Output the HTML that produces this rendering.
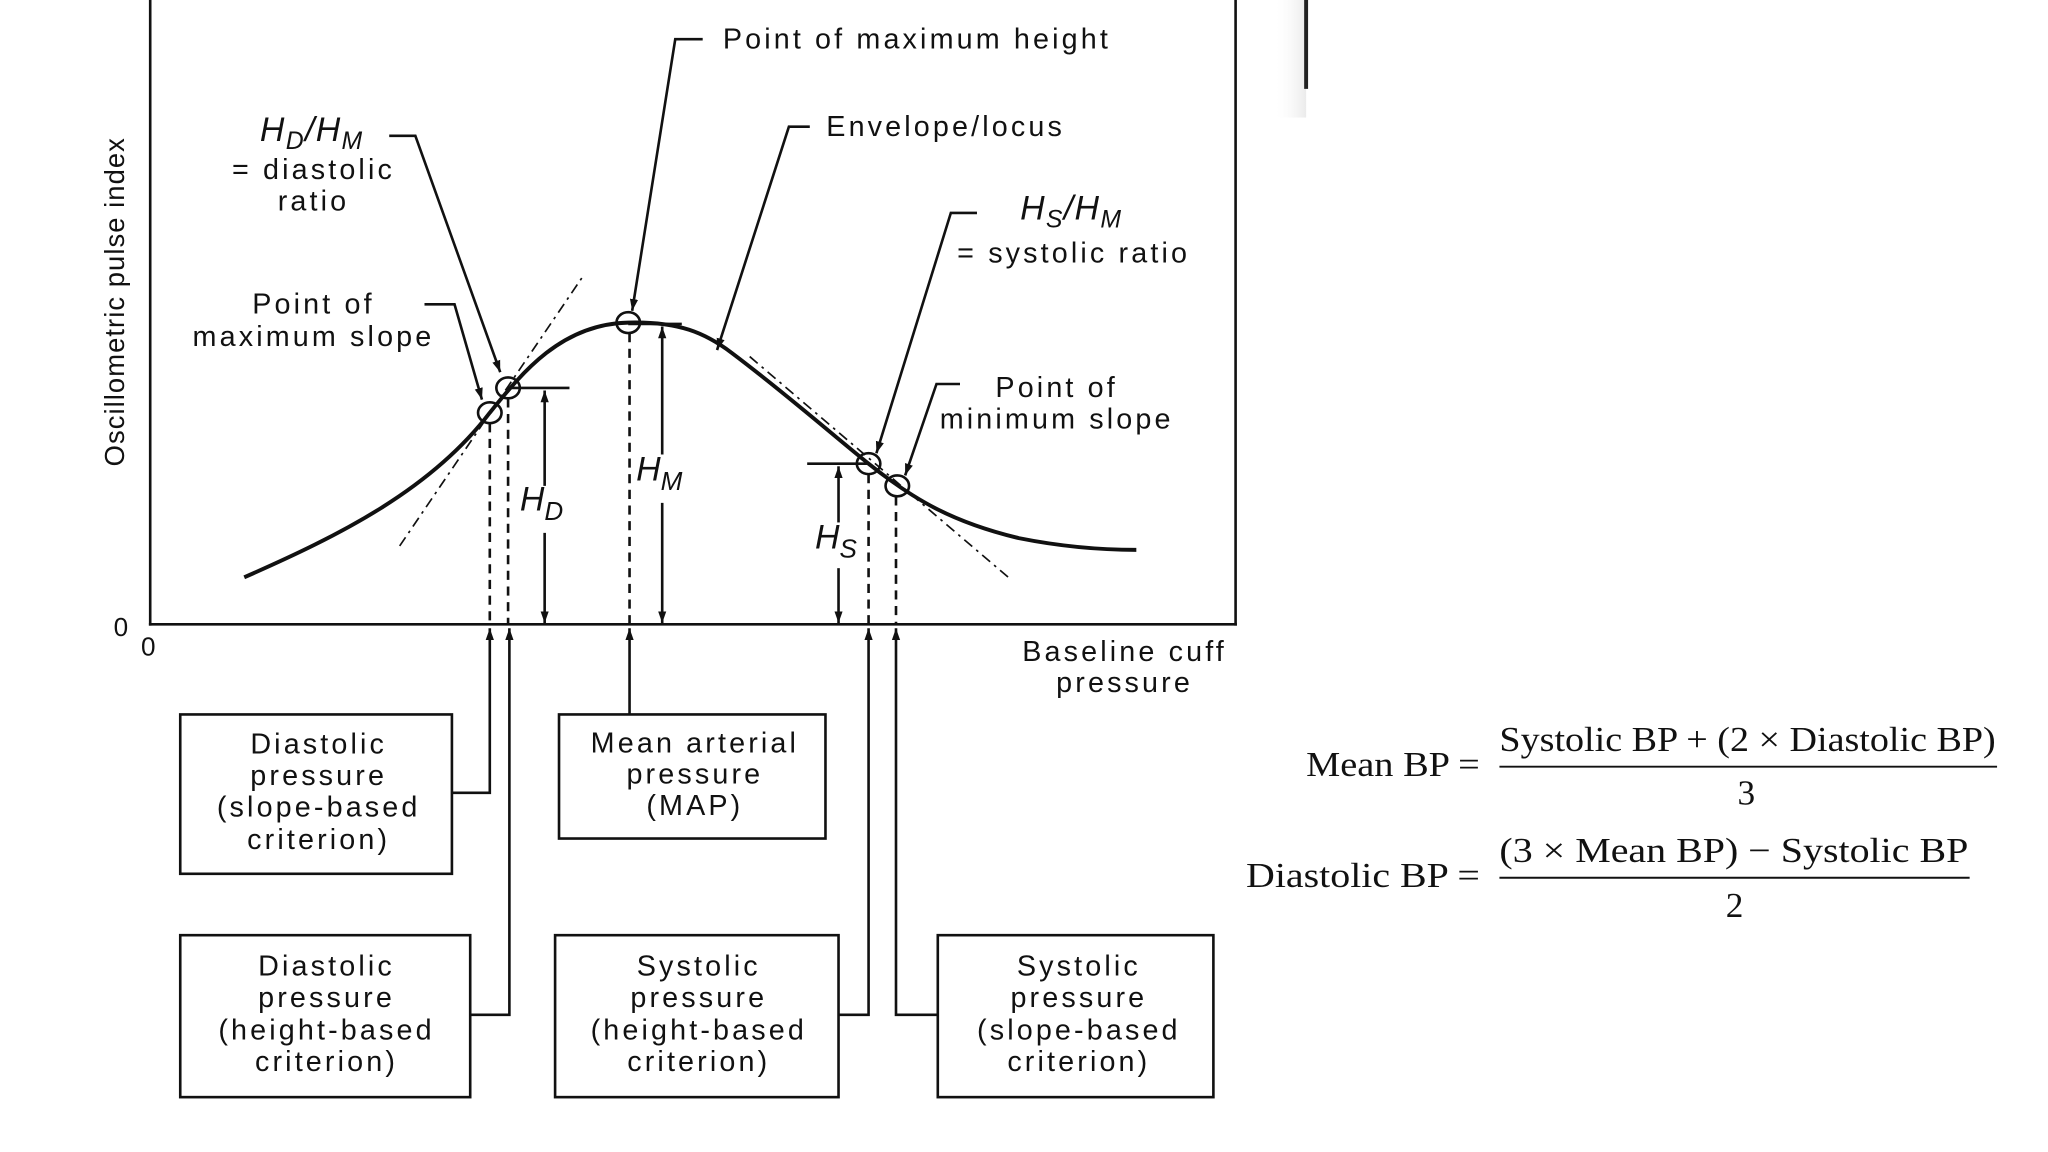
<!DOCTYPE html>
<html><head><meta charset="utf-8"><style>
html,body{margin:0;padding:0;background:#fff;}
svg{display:block;}
text{font-family:"Liberation Sans",sans-serif;fill:#111;}
.l{letter-spacing:2.4px;}
.s{font-family:"Liberation Serif",serif;}
</style></head><body>
<svg width="2048" height="1152" viewBox="0 0 1568 882" xmlns="http://www.w3.org/2000/svg">
<defs>
<marker id="a" viewBox="0 0 10 10" refX="10" refY="5" markerWidth="9" markerHeight="9" markerUnits="userSpaceOnUse" orient="auto"><path d="M0,1.5 L10,5 L0,8.5 z" fill="#111"/></marker>
<linearGradient id="sh" x1="0" x2="1"><stop offset="0" stop-color="#fff" stop-opacity="0"/><stop offset="1" stop-color="#ddd"/></linearGradient>
</defs>
<rect width="1568" height="882" fill="#fff"/>
<rect x="975" y="0" width="25" height="90" fill="url(#sh)" opacity="0.6"/>
<line x1="1000" y1="0" x2="1000" y2="68" stroke="#222" stroke-width="3"/>
<g stroke="#111" fill="none" stroke-width="2">
<line x1="115" y1="0" x2="115" y2="479"/>
<line x1="946" y1="0" x2="946" y2="479"/>
<line x1="114" y1="478" x2="947" y2="478"/>
<path stroke-width="3" d="M187,442 C260,410 330,375 375,316 C400,285 430,248 481,247 C520,246 540,255 560,270 C600,300 640,335 665,355 C700,383 730,400 780,412 C820,420 850,421 870,421"/>
<line x1="306" y1="418" x2="446" y2="212" stroke-width="1.3" stroke-dasharray="8,4,2,4"/>
<line x1="574" y1="273" x2="772" y2="442" stroke-width="1.3" stroke-dasharray="8,4,2,4"/>
<ellipse cx="375" cy="316" rx="9" ry="8"/>
<ellipse cx="389" cy="297" rx="9" ry="8"/>
<ellipse cx="481" cy="247" rx="9" ry="8"/>
<ellipse cx="665" cy="355" rx="9" ry="8"/>
<ellipse cx="687" cy="372" rx="9" ry="8"/>
<line x1="389" y1="297" x2="436" y2="297"/>
<line x1="481" y1="248" x2="522" y2="248"/>
<line x1="618" y1="355" x2="665" y2="355"/>
<g stroke-dasharray="7,5" stroke-width="2">
<line x1="375" y1="324" x2="375" y2="478"/>
<line x1="389" y1="305" x2="389" y2="478"/>
<line x1="482" y1="255" x2="482" y2="478"/>
<line x1="665" y1="363" x2="665" y2="478"/>
<line x1="686" y1="380" x2="686" y2="478"/>
</g>
<line x1="417" y1="372" x2="417" y2="299" marker-end="url(#a)"/>
<line x1="417" y1="408" x2="417" y2="477" marker-end="url(#a)"/>
<line x1="507" y1="348" x2="507" y2="250" marker-end="url(#a)"/>
<line x1="507" y1="385" x2="507" y2="477" marker-end="url(#a)"/>
<line x1="642" y1="400" x2="642" y2="357" marker-end="url(#a)"/>
<line x1="642" y1="435" x2="642" y2="477" marker-end="url(#a)"/>
<polyline points="298,104 318,104 383,285" marker-end="url(#a)"/>
<polyline points="325,233 348,233 369,306" marker-end="url(#a)"/>
<polyline points="538,30 517,30 484,238" marker-end="url(#a)"/>
<polyline points="620,97 604,97 549,268" marker-end="url(#a)"/>
<polyline points="748,163 728,163 671,347" marker-end="url(#a)"/>
<polyline points="735,294 717,294 693,364" marker-end="url(#a)"/>
<rect x="138" y="547" width="208" height="122"/>
<rect x="428" y="547" width="204" height="95"/>
<rect x="138" y="716" width="222" height="124"/>
<rect x="425" y="716" width="217" height="124"/>
<rect x="718" y="716" width="211" height="124"/>
<polyline points="346,607 375,607 375,481" marker-end="url(#a)"/>
<polyline points="360,777 390,777 390,481" marker-end="url(#a)"/>
<line x1="482" y1="547" x2="482" y2="481" marker-end="url(#a)"/>
<polyline points="642,777 665,777 665,481" marker-end="url(#a)"/>
<polyline points="718,777 686,777 686,481" marker-end="url(#a)"/>
<line x1="1148" y1="587" x2="1529" y2="587" stroke-width="1.5"/>
<line x1="1148" y1="672" x2="1508" y2="672" stroke-width="1.5"/>
</g>
<g font-size="22">
<text class="l" x="702" y="37" text-anchor="middle">Point of maximum height</text>
<text class="l" x="724" y="104" text-anchor="middle">Envelope/locus</text>
<text x="199" y="108" font-style="italic" font-size="26" letter-spacing="1">H<tspan font-size="19" dy="6">D</tspan><tspan dy="-6">/H</tspan><tspan font-size="19" dy="6">M</tspan></text>
<text class="l" x="240" y="137" text-anchor="middle">= diastolic</text>
<text class="l" x="240" y="161" text-anchor="middle">ratio</text>
<text class="l" x="240" y="240" text-anchor="middle">Point of</text>
<text class="l" x="240" y="265" text-anchor="middle">maximum slope</text>
<text x="781" y="168" font-style="italic" font-size="26" letter-spacing="1">H<tspan font-size="19" dy="6">S</tspan><tspan dy="-6">/H</tspan><tspan font-size="19" dy="6">M</tspan></text>
<text class="l" x="822" y="201" text-anchor="middle">= systolic ratio</text>
<text class="l" x="809" y="304" text-anchor="middle">Point of</text>
<text class="l" x="809" y="328" text-anchor="middle">minimum slope</text>
<text x="398" y="391" font-style="italic" font-size="26">H<tspan font-size="20" dy="7">D</tspan></text>
<text x="487" y="368" font-style="italic" font-size="26">H<tspan font-size="20" dy="7">M</tspan></text>
<text x="624" y="420" font-style="italic" font-size="26">H<tspan font-size="20" dy="7">S</tspan></text>
<text class="l" x="861" y="506" text-anchor="middle">Baseline cuff</text>
<text class="l" x="861" y="530" text-anchor="middle">pressure</text>
<text x="87" y="487" font-size="20">0</text>
<text x="108" y="502" font-size="20">0</text>
<text transform="translate(95,231) rotate(-90)" text-anchor="middle" font-size="21" letter-spacing="0.8">Oscillometric pulse index</text>
<g text-anchor="middle" class="l">
<text x="244" y="577">Diastolic</text><text x="244" y="601">pressure</text><text x="244" y="625">(slope-based</text><text x="244" y="650">criterion)</text>
<text x="532" y="576">Mean arterial</text><text x="532" y="600">pressure</text><text x="532" y="624">(MAP)</text>
<text x="250" y="747">Diastolic</text><text x="250" y="771">pressure</text><text x="250" y="796">(height-based</text><text x="250" y="820">criterion)</text>
<text x="535" y="747">Systolic</text><text x="535" y="771">pressure</text><text x="535" y="796">(height-based</text><text x="535" y="820">criterion)</text>
<text x="826" y="747">Systolic</text><text x="826" y="771">pressure</text><text x="826" y="796">(slope-based</text><text x="826" y="820">criterion)</text>
</g>
</g>
<g class="s" font-size="27">
<text class="s" x="1000" y="594" textLength="133" lengthAdjust="spacingAndGlyphs">Mean BP =</text>
<text class="s" x="1148" y="575" textLength="380" lengthAdjust="spacingAndGlyphs">Systolic BP + (2 × Diastolic BP)</text>
<text class="s" x="1337" y="616" text-anchor="middle">3</text>
<text class="s" x="954" y="679" textLength="179" lengthAdjust="spacingAndGlyphs">Diastolic  BP =</text>
<text class="s" x="1148" y="660" textLength="359" lengthAdjust="spacingAndGlyphs">(3 × Mean BP) − Systolic BP</text>
<text class="s" x="1328" y="702" text-anchor="middle">2</text>
</g>
</svg>
</body></html>
